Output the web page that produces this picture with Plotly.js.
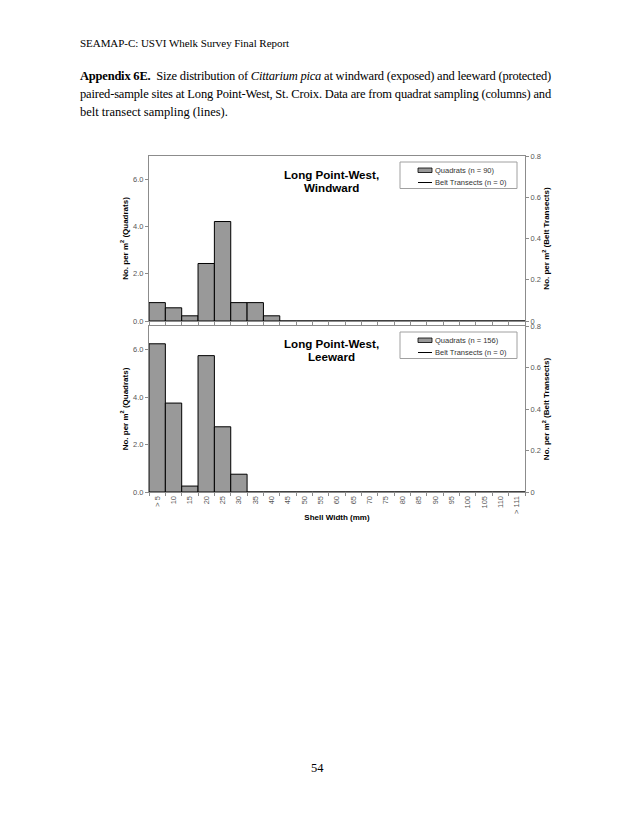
<!DOCTYPE html>
<html>
<head>
<meta charset="utf-8">
<script src="https://cdn.plot.ly/plotly-3.0.1.min.js"></script>
<style>
  html, body { margin: 0; padding: 0; background: #fff; }
  #page { position: relative; width: 630px; height: 815px; overflow: hidden; }
  #chart { position: absolute; left: 0; top: 0; width: 630px; height: 815px; }
  .txt { position: absolute; font-family: "Liberation Serif", "Times New Roman", serif; color: #000; font-size: 12.5px; z-index: 5; white-space: nowrap; }
</style>
</head>
<body>
<div id="page">
  <div id="chart"></div>
  <div class="txt fit" data-w="209" style="left:80px; top:37px; font-size:11px;">SEAMAP-C: USVI Whelk Survey Final Report</div>
  <div class="txt fit" data-w="471" style="left:80px; top:69px;"><b>Appendix 6E.</b>&nbsp; Size distribution of <i>Cittarium pica</i> at windward (exposed) and leeward (protected)</div>
  <div class="txt fit" data-w="471" style="left:80px; top:87px;">paired-sample sites at Long Point-West, St. Croix. Data are from quadrat sampling (columns) and</div>
  <div class="txt" style="left:80px; top:105px;">belt transect sampling (lines).</div>
  <div class="txt" style="left:311px; top:761px;">54</div>
</div>
<script>
// Shell width classes (mm)
const shellWidth = ["> 5", "10", "15", "20", "25", "30", "35", "40", "45", "50", "55", "60",
                    "65", "70", "75", "80", "85", "90", "95", "100", "105", "110", "> 111"];

// Windward: quadrats (n = 90), No. per m2
const quadWindward = [0.78, 0.56, 0.22, 2.44, 4.22, 0.78, 0.78, 0.22, 0, 0, 0, 0,
                      0, 0, 0, 0, 0, 0, 0, 0, 0, 0, 0];
// Windward: belt transects (n = 0) - no data
const beltWindward = [null, null, null, null, null, null, null, null, null, null, null, null,
                      null, null, null, null, null, null, null, null, null, null, null];

// Leeward: quadrats (n = 156), No. per m2
const quadLeeward = [6.25, 3.75, 0.25, 5.75, 2.75, 0.75, 0, 0, 0, 0, 0, 0,
                     0, 0, 0, 0, 0, 0, 0, 0, 0, 0, 0];
// Leeward: belt transects (n = 0) - no data
const beltLeeward = [null, null, null, null, null, null, null, null, null, null, null, null,
                     null, null, null, null, null, null, null, null, null, null, null];

const panelTitles = [["Long Point-West,", "Windward"], ["Long Point-West,", "Leeward"]];
const legendWindward = ["Quadrats (n = 90)", "Belt Transects (n = 0)"];
const legendLeeward = ["Quadrats (n = 156)", "Belt Transects (n = 0)"];

const leftTicks = [0, 2, 4, 6];
const rightTicks = [0, 0.2, 0.4, 0.6, 0.8];
const rightTickText = ["0", "0.2", "0.4", "0.6", "0.8"];

// fit page text lines to their measured widths
document.querySelectorAll(".fit").forEach(el => {
  const target = +el.dataset.w;
  const w = el.getBoundingClientRect().width;
  const n = el.textContent.length;
  el.style.letterSpacing = ((target - w) / n).toFixed(3) + "px";
});

const FONT = "Liberation Sans, Arial, sans-serif";
const barColor = "#999999";
const axisGray = "#8c8c8c";
const tickFont = {family: FONT, size: 7.5, color: "#555"};
const titleFont = {family: FONT, size: 8, color: "#000", weight: "bold"};

// plot area in pixels
const PL = 149, PR = 525, PT = 156, PB = 492;
const px = v => (v - PL) / (PR - PL);
const py = v => (PB - v) / (PB - PT);

const traces = [
  {type: "bar", name: legendWindward[0], x: shellWidth, y: quadWindward,
   xaxis: "x2", yaxis: "y3", showlegend: false,
   marker: {color: barColor, line: {color: "#000", width: 1}}},
  {type: "scatter", mode: "lines", name: legendWindward[1], x: shellWidth, y: beltWindward,
   xaxis: "x2", yaxis: "y4", showlegend: false, line: {color: "#000", width: 1}},
  {type: "bar", name: legendLeeward[0], x: shellWidth, y: quadLeeward,
   xaxis: "x", yaxis: "y", showlegend: false,
   marker: {color: barColor, line: {color: "#000", width: 1}}},
  {type: "scatter", mode: "lines", name: legendLeeward[1], x: shellWidth, y: beltLeeward,
   xaxis: "x", yaxis: "y2", showlegend: false, line: {color: "#000", width: 1}}
];

const commonX = {
  type: "category", showline: true, mirror: true, linecolor: axisGray, linewidth: 1,
  ticks: "outside", ticklen: 3, tickcolor: axisGray, tickson: "boundaries",
  showgrid: false, zeroline: false, fixedrange: true
};
const leftY = {
  range: [0, 7], tickvals: leftTicks, tickformat: ".1f",
  showline: true, linecolor: axisGray, linewidth: 1, ticks: "outside", ticklen: 3, tickcolor: axisGray,
  showgrid: false, zeroline: false, tickfont: tickFont,
  title: {text: "No. per m<sup>2</sup> (Quadrats)", font: titleFont, standoff: 3}
};
const rightY = {
  range: [0, 0.8], tickvals: rightTicks, ticktext: rightTickText, side: "right",
  showline: true, linecolor: axisGray, linewidth: 1, ticks: "outside", ticklen: 3, tickcolor: axisGray,
  showgrid: false, zeroline: false, tickfont: tickFont,
  title: {text: "No. per m<sup>2</sup> (Belt Transects)", font: titleFont, standoff: 3}
};

// manual legends (Excel-style compact boxes)
const shapes = [];
const annotations = [];
function addLegend(labels, top) {
  shapes.push({type: "rect", xref: "paper", yref: "paper", x0: px(400), x1: px(517), y0: py(top), y1: py(top + 26.5),
               line: {color: "#a0a0a0", width: 1}, fillcolor: "#fff", layer: "above"});
  shapes.push({type: "rect", xref: "paper", yref: "paper", x0: px(418), x1: px(432), y0: py(top + 6), y1: py(top + 10.5),
               line: {color: "#000", width: 0.8}, fillcolor: barColor, layer: "above"});
  shapes.push({type: "line", xref: "paper", yref: "paper", x0: px(418), x1: px(432), y0: py(top + 20.5), y1: py(top + 20.5),
               line: {color: "#000", width: 1}, layer: "above"});
  annotations.push({text: labels[0], xref: "paper", yref: "paper", x: px(433), y: py(top + 8), xanchor: "left", yanchor: "middle",
                    showarrow: false, font: {family: FONT, size: 7.5, color: "#333"}});
  annotations.push({text: labels[1], xref: "paper", yref: "paper", x: px(433), y: py(top + 20.5), xanchor: "left", yanchor: "middle",
                    showarrow: false, font: {family: FONT, size: 7.5, color: "#333"}});
}
addLegend(legendWindward, 162);
addLegend(legendLeeward, 332);

function addTitle(lines, y1, y2) {
  annotations.push({text: "<b>" + lines[0] + "</b>", xref: "paper", yref: "paper", x: px(331), y: py(y1),
                    xanchor: "center", yanchor: "middle", showarrow: false, font: {family: FONT, size: 11.6, color: "#000"}});
  annotations.push({text: "<b>" + lines[1] + "</b>", xref: "paper", yref: "paper", x: px(331), y: py(y2),
                    xanchor: "center", yanchor: "middle", showarrow: false, font: {family: FONT, size: 11.6, color: "#000"}});
}
addTitle(panelTitles[0], 174, 187);
addTitle(panelTitles[1], 343.5, 356.5);

const layout = {
  width: 630, height: 815,
  margin: {l: PL, r: 630 - PR, t: PT, b: 815 - PB, pad: 0},
  paper_bgcolor: "#fff", plot_bgcolor: "#fff",
  bargap: 0, showlegend: false,
  font: {family: FONT},
  xaxis: Object.assign({}, commonX, {
    anchor: "y", tickangle: -90, tickfont: tickFont, showticklabels: true,
    title: {text: "Shell Width (mm)", font: titleFont, standoff: 1}
  }),
  xaxis2: Object.assign({}, commonX, {anchor: "y3", matches: "x", showticklabels: false}),
  yaxis: Object.assign({}, leftY, {domain: [0, py(326)], anchor: "x"}),
  yaxis2: Object.assign({}, rightY, {overlaying: "y", anchor: "x"}),
  yaxis3: Object.assign({}, leftY, {domain: [py(321), 1], anchor: "x2"}),
  yaxis4: Object.assign({}, rightY, {overlaying: "y3", anchor: "x2"}),
  shapes: shapes,
  annotations: annotations
};

Plotly.newPlot("chart", traces, layout, {displayModeBar: false, staticPlot: true});
</script>
</body>
</html>
